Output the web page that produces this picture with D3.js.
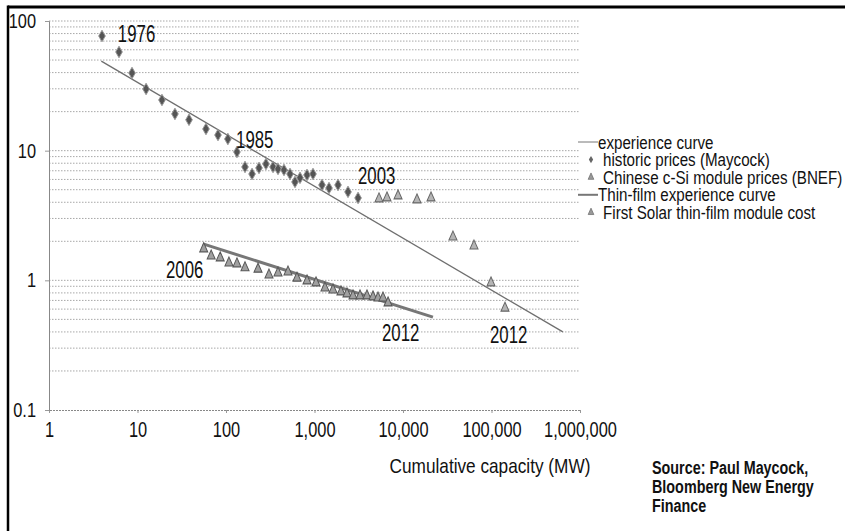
<!DOCTYPE html>
<html>
<head>
<meta charset="utf-8">
<script src="https://cdn.jsdelivr.net/npm/d3@7"></script>
<style>
  html, body { margin: 0; padding: 0; background: #fff; }
  svg { display: block; }
  text { font-family: "Liberation Sans", Arial, sans-serif; fill: #111; }
</style>
</head>
<body>
<svg id="chart" width="845" height="531"></svg>
<script>
// Historic module prices (Maycock), $/W vs cumulative MW
const historicX = [3.97, 6.18, 8.67, 12.5, 18.9, 26.5, 38.2, 59.4, 81.2, 105, 133, 164, 197, 236, 283, 340, 387, 452, 529, 602, 686, 823, 962, 1216, 1459, 1844, 2391, 3105];
const historicY = [76.6, 57.7, 39.7, 29.9, 24.6, 19.2, 17.3, 14.7, 13.2, 12.3, 9.77, 7.49, 6.61, 7.36, 7.89, 7.49, 7.23, 7.10, 6.61, 5.74, 6.17, 6.50, 6.61, 5.44, 5.15, 5.44, 4.81, 4.32];

// Chinese c-Si module prices (BNEF)
const chineseX = [5355, 6594, 8787, 14390, 20720, 36700, 63400, 98700, 142000];
const chineseY = [4.25, 4.32, 4.48, 4.17, 4.32, 2.16, 1.84, 0.955, 0.61];

// First Solar thin-film module cost
const firstSolarX = [56, 68, 86, 108, 133, 164, 230, 306, 387, 502, 634, 823, 1040, 1314, 1618, 1991, 2328, 2723, 3266, 3917, 4581, 5221, 5943, 6776];
const firstSolarY = [1.75, 1.54, 1.49, 1.36, 1.34, 1.25, 1.22, 1.10, 1.14, 1.16, 1.04, 0.99, 0.955, 0.873, 0.843, 0.814, 0.786, 0.758, 0.758, 0.758, 0.745, 0.731, 0.731, 0.67];

// Fitted experience curves (end points)
const expCurveX = [3.9, 640000];
const expCurveY = [49, 0.40];
const thinCurveX = [55, 21800];
const thinCurveY = [1.91, 0.52];

// Axis ticks
const xTicks = [1, 10, 100, 1000, 10000, 100000, 1000000];
const xTickLabels = ["1", "10", "100", "1,000", "10,000", "100,000", "1,000,000"];
const yTicks = [0.1, 1, 10, 100];
const yTickLabels = ["0.1", "1", "10", "100"];

// Year annotations, anchored in data units
const yearLabels = ["1976", "1985", "2003", "2006", "2012", "2012"];
const yearX = [6.0, 130, 3100, 21, 5790, 96200];
const yearY = [79.4, 12.3, 6.4, 1.22, 0.393, 0.38];

const legendLabels = ["experience curve", "historic prices (Maycock)", "Chinese c-Si module prices (BNEF)", "Thin-film experience curve", "First Solar thin-film module cost"];
const legendKinds = ["line", "diamond", "triangle", "thickline", "triangle"];

// Condensed lettering: regular face squeezed horizontally
const SQ = 0.82;

const svg = d3.select("#chart");

const x = d3.scaleLog().domain([1, 1e6]).range([49, 580]);
const y = d3.scaleLog().domain([0.1, 100]).range([410, 21]);

function label(parent, px, py, str, size, opts = {}) {
  const sy = opts.sy || 1;
  return parent.append("text")
    .attr("transform", `translate(${px},${py}) scale(${SQ},${sy})`)
    .attr("dy", "0.36em")
    .attr("font-size", size)
    .attr("font-weight", opts.bold ? "bold" : null)
    .attr("text-anchor", opts.anchor || "start")
    .text(str);
}

// Frame (top and left rules)
svg.append("line").attr("x1", 8).attr("x2", 845).attr("y1", 7).attr("y2", 7)
  .attr("stroke", "#000").attr("stroke-width", 3);
svg.append("line").attr("x1", 8).attr("x2", 8).attr("y1", 5.5).attr("y2", 531)
  .attr("stroke", "#000").attr("stroke-width", 2.5);

// Horizontal gridlines at every log step
const gridVals = [];
for (let d = 0.1; d < 100; d *= 10) {
  for (let m = 1; m <= 9; m++) gridVals.push(+(d * m).toPrecision(3));
}
gridVals.push(100);
svg.append("g").selectAll("line").data(gridVals.filter(v => v > 0.1)).join("line")
  .attr("x1", x(1)).attr("x2", x(1e6))
  .attr("y1", d => y(d)).attr("y2", d => y(d))
  .attr("stroke", "#a8a8a8").attr("stroke-width", 1)
  .attr("stroke-dasharray", "1.5,1.5");

// X axis
const xAxis = d3.axisBottom(x).tickValues(xTicks).tickSize(3)
  .tickFormat((d, i) => xTickLabels[i]);
const gx = svg.append("g").attr("transform", `translate(0,${y(0.1)})`).call(xAxis);
gx.select(".domain").attr("stroke", "#888").attr("stroke-dasharray", "2,1");
gx.selectAll(".tick line").attr("stroke", "#999");
gx.selectAll(".tick text").attr("font-size", 20).attr("dy", "0.95em")
  .attr("transform", `scale(${SQ},1.08)`)
  .attr("font-family", "Liberation Sans, Arial, sans-serif")
  .attr("fill", "#111");

// Y axis
const yAxis = d3.axisLeft(y).tickValues(yTicks).tickSize(4)
  .tickFormat((d, i) => yTickLabels[i]);
const gy = svg.append("g").attr("transform", `translate(${x(1)},0)`).call(yAxis);
gy.select(".domain").attr("stroke", "#888");
gy.selectAll(".tick line").attr("stroke", "#999");
gy.selectAll(".tick text").attr("font-size", 20).attr("x", -13 / SQ)
  .attr("transform", `scale(${SQ},1)`)
  .attr("font-family", "Liberation Sans, Arial, sans-serif")
  .attr("fill", "#111");

// Experience curves
const line = d3.line().x(d => x(d[0])).y(d => y(d[1]));
svg.append("path").datum(d3.zip(expCurveX, expCurveY)).attr("d", line)
  .attr("fill", "none").attr("stroke", "#6f6f6f").attr("stroke-width", 1.3);
svg.append("path").datum(d3.zip(thinCurveX, thinCurveY)).attr("d", line)
  .attr("fill", "none").attr("stroke", "#777").attr("stroke-width", 3);

// Markers
const diamond = d3.symbol().type(d3.symbolDiamond).size(38);
const triangle = d3.symbol().type(d3.symbolTriangle).size(28);

svg.append("g").selectAll("path").data(d3.zip(historicX, historicY)).join("path")
  .attr("d", diamond)
  .attr("transform", d => `translate(${x(d[0])},${y(d[1])})`)
  .attr("fill", "#555").attr("stroke", "#999").attr("stroke-width", 1);

svg.append("g").selectAll("path").data(d3.zip(chineseX, chineseY)).join("path")
  .attr("d", triangle)
  .attr("transform", d => `translate(${x(d[0])},${y(d[1])}) scale(1,1.3)`)
  .attr("fill", "#b5b5b5").attr("stroke", "#666").attr("stroke-width", 0.9);

svg.append("g").selectAll("path").data(d3.zip(firstSolarX, firstSolarY)).join("path")
  .attr("d", triangle)
  .attr("transform", d => `translate(${x(d[0])},${y(d[1])}) scale(1,1.3)`)
  .attr("fill", "#a0a0a0").attr("stroke", "#555").attr("stroke-width", 0.9);

// Year annotations
const gYears = svg.append("g");
yearLabels.forEach((t, i) => label(gYears, x(yearX[i]), y(yearY[i]), t, 20.5, { sy: 1.15 }));

// Legend
const legend = svg.append("g");
const legY0 = 142, legStep = 17.6;
legendKinds.forEach((k, i) => {
  const ly = legY0 + i * legStep;
  const isLine = (k === "line" || k === "thickline");
  if (isLine) {
    legend.append("line").attr("x1", 578).attr("x2", 598).attr("y1", ly).attr("y2", ly)
      .attr("stroke", "#777").attr("stroke-width", k === "line" ? 1 : 2);
  } else if (k === "diamond") {
    legend.append("path").attr("d", d3.symbol().type(d3.symbolDiamond).size(16))
      .attr("transform", `translate(591,${ly})`).attr("fill", "#666");
  } else {
    legend.append("path").attr("d", d3.symbol().type(d3.symbolTriangle).size(14))
      .attr("transform", `translate(591,${ly}) scale(1,1.3)`).attr("fill", "#999").attr("stroke", "#666").attr("stroke-width", 0.6);
  }
  label(legend, isLine ? 598 : 603, ly, legendLabels[i], 18.5);
});

// Axis title
label(svg, 490, 465, "Cumulative capacity (MW)", 21, { anchor: "middle" });

// Source note
const sourceLines = ["Source: Paul Maycock,", "Bloomberg New Energy", "Finance"];
sourceLines.forEach((t, i) => label(svg, 652, 468 + i * 19, t, 17.5, { bold: true }));
</script>
</body>
</html>
